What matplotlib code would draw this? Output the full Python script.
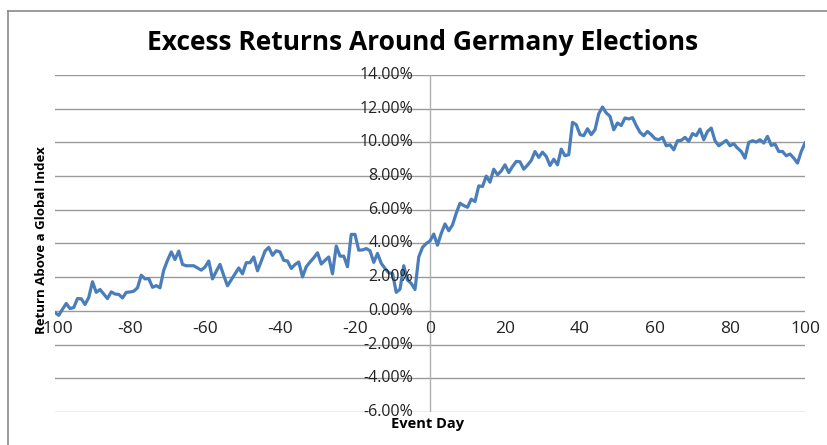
import matplotlib
matplotlib.use('Agg')
import matplotlib.pyplot as plt
from matplotlib.lines import Line2D

# event days -100 .. 100
days = list(range(-100, 101))

# excess return (%), one per day
returns = [
    -0.10, -0.26, 0.10, 0.44, 0.14, 0.20, 0.73, 0.72, 0.38, 0.80,
    1.73, 1.10, 1.27, 1.00, 0.73, 1.13, 1.00, 0.98, 0.77, 1.10,
    1.12, 1.17, 1.37, 2.12, 1.90, 1.92, 1.40, 1.50, 1.37, 2.42,
    3.00, 3.50, 3.05, 3.55, 2.76, 2.68, 2.68, 2.68, 2.55, 2.42,
    2.60, 2.96, 1.90, 2.35, 2.76, 2.10, 1.49, 1.85, 2.20, 2.55,
    # -50
    2.20, 2.86, 2.86, 3.20, 2.38, 2.95, 3.55, 3.77, 3.30, 3.57,
    3.50, 3.00, 2.96, 2.52, 2.75, 2.90, 2.02, 2.62, 2.90, 3.15,
    3.45, 2.78, 3.00, 3.20, 2.20, 3.85, 3.25, 3.25, 2.62, 4.54,
    4.54, 3.60, 3.62, 3.70, 3.57, 2.88, 3.41, 2.82, 2.52, 2.26,
    2.22, 1.10, 1.29, 2.68, 1.83, 1.63, 1.27, 3.20, 3.77, 4.00,
    # 0
    4.15, 4.56, 3.90, 4.60, 5.16, 4.76, 5.10, 5.80, 6.39, 6.25,
    6.15, 6.63, 6.49, 7.42, 7.38, 8.00, 7.64, 8.41, 8.08, 8.31,
    8.67, 8.21, 8.57, 8.87, 8.85, 8.41, 8.65, 8.93, 9.46, 9.11,
    9.42, 9.17, 8.63, 9.00, 8.67, 9.60, 9.21, 9.27, 11.19, 11.05,
    10.46, 10.40, 10.81, 10.46, 10.75, 11.70, 12.10, 11.75, 11.55, 10.75,
    # 50
    11.15, 11.00, 11.45, 11.39, 11.47, 11.00, 10.60, 10.40, 10.65, 10.46,
    10.22, 10.16, 10.30, 9.80, 9.86, 9.56, 10.10, 10.12, 10.30, 10.06,
    10.52, 10.40, 10.79, 10.16, 10.65, 10.85, 10.10, 9.80, 9.96, 10.12,
    9.80, 9.92, 9.66, 9.46, 9.07, 10.00, 10.10, 10.02, 10.16, 9.96,
    10.36, 9.82, 9.90, 9.46, 9.46, 9.21, 9.31, 9.07, 8.77, 9.46,
    9.96,
]

x_ticks = [-100, -80, -60, -40, -20, 0, 20, 40, 60, 80, 100]
y_ticks = [-6, -4, -2, 0, 2, 4, 6, 8, 10, 12, 14]

title = 'Excess Returns Around Germany Elections'
xlabel = 'Event Day'
ylabel = 'Return Above a Global Index'

plt.rcParams['font.family'] = ['Open Sans', 'DejaVu Sans']

fig = plt.figure(figsize=(8.27, 4.45), dpi=100)
ax = fig.add_axes([55 / 827, 1 - 412 / 445, 750 / 827, 337 / 445])

ax.plot(days, returns, color='#4a7ebb', linewidth=2.3, zorder=3)

ax.set_xlim(-100, 100)
ax.set_ylim(-6, 14)
ax.set_yticks(y_ticks)
ax.set_xticks(x_ticks)
ax.grid(axis='y', color='#9a9a9a', linewidth=1)
ax.set_axisbelow(True)
for s in ax.spines.values():
    s.set_visible(False)

# y axis sits at day 0, x labels sit just under the 0% line
ax.axvline(0, color='#b0b0b0', linewidth=1, zorder=1)
ax.tick_params(length=0)
ax.set_yticklabels([])
ax.set_xticklabels([])
for v in y_ticks:
    ax.text(-4.5, v, '{:.2f}%'.format(v), ha='right', va='center', fontsize=11.5, color='#222222')
for d in x_ticks:
    ax.text(d, -0.6, str(d), ha='center', va='top', fontsize=12.5, color='#222222')

fig.text(428 / 827, 1 - 424 / 445, xlabel, ha='center', va='center', fontsize=10.5, fontweight='bold')
fig.text(42 / 827, 1 - 240 / 445, ylabel, ha='center', va='center', rotation=90, fontsize=9.5, fontweight='bold')
fig.text(423 / 827, 1 - 42 / 445, title, ha='center', va='center', fontsize=19, fontweight='bold')

# chart border (left and top only are visible)
fig.add_artist(Line2D([8 / 827, 8 / 827], [0, 1 - 11 / 445], transform=fig.transFigure, color='#8a8a8a', linewidth=1.2))
fig.add_artist(Line2D([8 / 827, 1], [1 - 11 / 445, 1 - 11 / 445], transform=fig.transFigure, color='#8a8a8a', linewidth=1.2))

fig.savefig('out.png', dpi=100)
